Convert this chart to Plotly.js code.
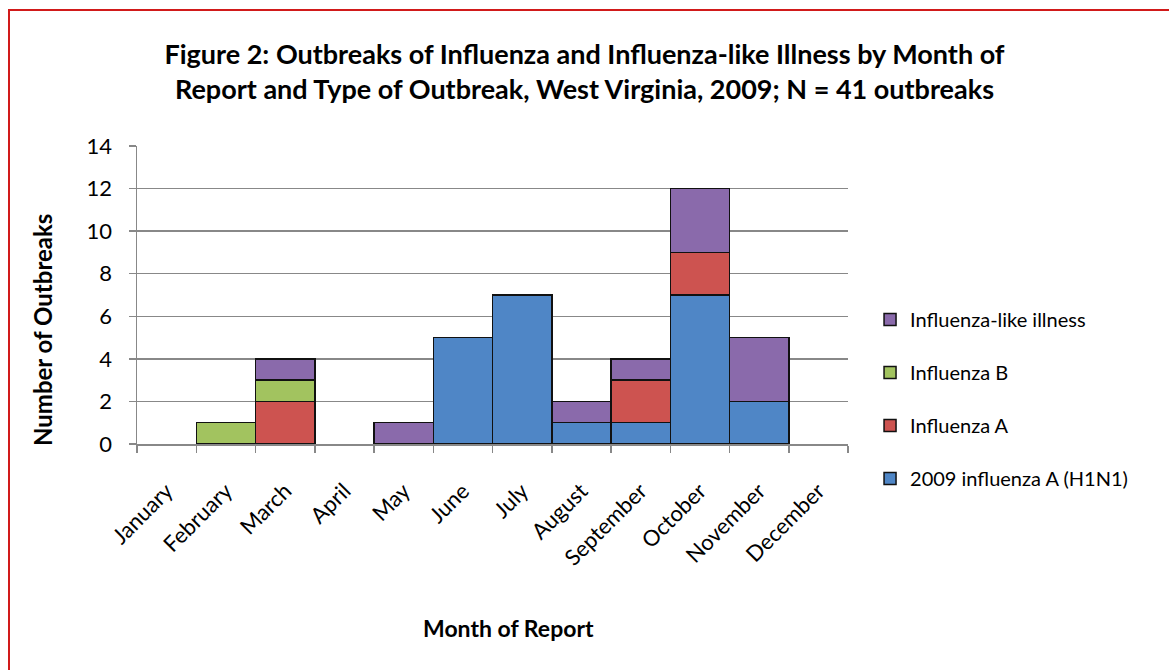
<!DOCTYPE html>
<html>
<head>
<meta charset="utf-8">
<script src="https://cdn.plot.ly/plotly-3.0.1.min.js"></script>
<style>
html,body{margin:0;padding:0;background:#fff;overflow:hidden;}
#chart{width:1169px;height:670px;}
#frame{position:fixed;left:8px;top:9px;width:1300px;height:800px;border-left:2px solid #d11a1a;border-top:2px solid #d11a1a;pointer-events:none;}
</style>
</head>
<body>
<div id="chart"></div>
<div id="frame"></div>
<script>
const months = ["January","February","March","April","May","June","July","August","September","October","November","December"];
const h1n1 = [0,0,0,0,0,5,7,1,1,7,2,0];
const fluA = [0,0,2,0,0,0,0,0,2,2,0,0];
const fluB = [0,1,1,0,0,0,0,0,0,0,0,0];
const ili  = [0,0,1,0,1,0,0,1,1,3,3,0];
const seriesNames = ["2009 influenza A (H1N1)","Influenza A","Influenza B","Influenza-like illness"];
const seriesValues = [h1n1, fluA, fluB, ili];
const colors = ["#4f86c6","#cd5350","#a2c35f","#8a6aab"];
const xTitle = "Month of Report";
const yTitle = "Number of Outbreaks";

const font = "Lato, 'Open Sans', sans-serif";
const traces = seriesValues.map((vals, i) => ({
  type: "bar",
  name: seriesNames[i],
  x: months,
  y: vals.map(v => v === 0 ? null : v),
  legendgroup: "g" + i,
  legendrank: 100 - i,
  marker: {color: colors[i], line: {color: "#111", width: 1.5}},
  hoverinfo: "x+y+name"
}));

const layout = {
  width: 1169, height: 670,
  paper_bgcolor: "#fff", plot_bgcolor: "#fff",
  margin: {l: 137, r: 321, t: 146, b: 226},
  barmode: "stack", bargap: 0,
  font: {family: font, color: "#000"},
  title: {
    text: "<b>Figure 2: Outbreaks of Influenza and Influenza-like Illness by Month of<br>Report and Type of Outbreak, West Virginia, 2009; N = 41 outbreaks</b>",
    x: 0.5, xref: "container", xanchor: "center",
    y: 0.904, yref: "container", yanchor: "top",
    font: {family: font, size: 27, color: "#000"}
  },
  xaxis: {
    type: "category",
    tickangle: -45,
    tickson: "boundaries",
    ticks: "outside", ticklen: 7, tickcolor: "#888", tickwidth: 1.5,
    ticklabelstandoff: 24,
    showline: true, linecolor: "#888", linewidth: 1.5,
    showgrid: false,
    tickfont: {family: font, size: 22, color: "#000"}
  },
  yaxis: {
    range: [0, 14], dtick: 2,
    ticks: "outside", ticklen: 7, tickcolor: "#888", tickwidth: 1.5,
    ticklabelstandoff: 12,
    showline: true, linecolor: "#888", linewidth: 1.5,
    showgrid: true, gridcolor: "#888", gridwidth: 1.3,
    zeroline: false,
    tickfont: {family: font, size: 22, color: "#000"}
  },
  annotations: [
    {text: "<b>" + xTitle + "</b>", xref: "paper", yref: "paper", x: 0.522, y: -0.617,
     xanchor: "center", yanchor: "middle", showarrow: false,
     font: {family: font, size: 23, color: "#000"}},
    {text: "<b>" + yTitle + "</b>", xref: "paper", yref: "paper", x: -0.132, y: 0.383,
     xanchor: "center", yanchor: "middle", showarrow: false, textangle: -90,
     font: {family: font, size: 24, color: "#000"}}
  ],
  legend: {
    x: 1.031, xanchor: "left", y: 0.483, yanchor: "top",
    traceorder: "grouped", tracegroupgap: 24,
    font: {family: font, size: 20, color: "#000"},
    itemwidth: 30
  },
  showlegend: true
};

Plotly.newPlot("chart", traces, layout, {displayModeBar: false, staticPlot: true});
</script>
</body>
</html>
